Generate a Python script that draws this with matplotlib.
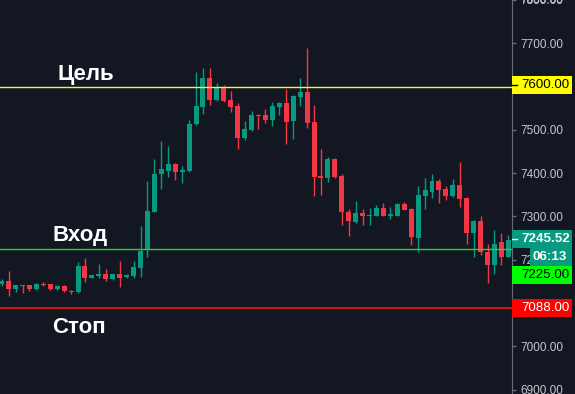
import numpy as np
import matplotlib.pyplot as plt
from matplotlib.patches import Rectangle

# OHLC candles
opens = [7143, 7152, 7132, 7141, 7141, 7132, 7145, 7143, 7132, 7139,
         7129, 7125, 7185, 7158, 7162, 7167, 7155, 7167, 7160, 7162,
         7181, 7223, 7311, 7397, 7405, 7421, 7403, 7405, 7513, 7553,
         7621, 7568, 7599, 7568, 7555, 7482, 7500, 7535, 7534, 7523,
         7552, 7562, 7520, 7575, 7587, 7518, 7394, 7389, 7433, 7394,
         7311, 7288, 7309, 7300, 7302, 7320, 7302, 7302, 7329, 7318,
         7251, 7348, 7357, 7382, 7364, 7348, 7373, 7343, 7263, 7290,
         7219, 7189, 7242, 7207]
closes = [7152, 7132, 7141, 7139, 7132, 7143, 7142, 7132, 7139, 7127,
          7125, 7185, 7158, 7164, 7167, 7155, 7167, 7159, 7165, 7183,
          7221, 7313, 7398, 7410, 7421, 7403, 7408, 7513, 7555, 7621,
          7568, 7599, 7566, 7553, 7482, 7502, 7534, 7532, 7523, 7555,
          7562, 7519, 7578, 7587, 7516, 7391, 7389, 7433, 7391, 7311,
          7290, 7309, 7300, 7304, 7320, 7302, 7304, 7329, 7316, 7252,
          7350, 7362, 7382, 7362, 7348, 7373, 7341, 7263, 7290, 7217,
          7189, 7237, 7207, 7245.52]
highs = [7155, 7175, 7141, 7142, 7142, 7146, 7148, 7144, 7141, 7141,
         7130, 7194, 7204, 7165, 7190, 7179, 7168, 7197, 7168, 7197,
         7279, 7382, 7433, 7474, 7463, 7424, 7417, 7523, 7633, 7644,
         7642, 7608, 7603, 7589, 7562, 7520, 7543, 7537, 7548, 7564,
         7564, 7594, 7580, 7619, 7690, 7557, 7456, 7437, 7435, 7398,
         7318, 7336, 7318, 7320, 7327, 7332, 7322, 7330, 7334, 7320,
         7371, 7389, 7398, 7387, 7371, 7387, 7426, 7346, 7293, 7300,
         7237, 7269, 7263, 7258]
lows = [7139, 7116, 7125, 7123, 7128, 7131, 7139, 7131, 7131, 7126,
        7120, 7124, 7148, 7157, 7159, 7152, 7154, 7137, 7158, 7159,
        7160, 7206, 7310, 7364, 7391, 7385, 7378, 7403, 7511, 7537,
        7557, 7566, 7564, 7542, 7457, 7477, 7497, 7503, 7516, 7509,
        7534, 7468, 7480, 7555, 7504, 7348, 7350, 7380, 7388, 7281,
        7256, 7286, 7281, 7281, 7301, 7300, 7295, 7301, 7315, 7233,
        7217, 7318, 7343, 7332, 7339, 7346, 7322, 7237, 7206, 7210,
        7146, 7168, 7187, 7207]

target = 7600.00
entry = 7225.00
stop = 7088.00
last_price = 7245.52
countdown = '06:13'
price_ticks = [6900, 7000, 7100, 7200, 7300, 7400, 7500, 7600, 7700, 7800]

bg = '#131722'
up_col = '#089981'
down_col = '#f23645'

plt.rcParams['font.family'] = ['Liberation Sans', 'DejaVu Sans']

fig = plt.figure(figsize=(5.75, 3.94), dpi=100, facecolor=bg)
ax = fig.add_axes([0, 0, 512.3 / 575, 1])
ax.set_facecolor(bg)

ymin, ymax = 6890, 7796
ax.set_ylim(ymin, ymax)
ax.set_xlim(-0.245, 73.57)
px = (ymax - ymin) / 394  # price per pixel

o = np.array(opens)
c = np.array(closes)
h = np.array(highs)
l = np.array(lows)
x = np.arange(len(o))
cols = np.where(c >= o, up_col, down_col)

ax.vlines(x, l, h, colors=cols, linewidth=1, zorder=2)
body_h = np.maximum(np.abs(c - o), 1.2 * px)
body_b = np.minimum(o, c)
ax.bar(x, body_h, bottom=body_b, width=0.72, color=cols, linewidth=0, zorder=3)

# levels
ax.axhline(target, color='#f5f53a', linewidth=1, zorder=4)
ax.axhline(entry, color='#2fcf3a', linewidth=1, zorder=4)
ax.axhline(stop, color='#ff1010', linewidth=1.2, zorder=4)

lbl = dict(color='white', fontsize=16, fontweight='bold',
           textcoords='offset points', va='baseline', ha='left')
ax.annotate('Цель', xy=(7.97, target), xytext=(0, 5), **lbl)
ax.annotate('Вход', xy=(7.25, entry), xytext=(0, 5.5), **lbl)
ax.annotate('Стоп', xy=(7.25, stop), xytext=(0, -18), **lbl)

# price scale
for s in ['top', 'left', 'bottom']:
    ax.spines[s].set_visible(False)
ax.spines['right'].set_color('#6a6d78')
ax.set_xticks([])
ax.yaxis.tick_right()
ax.set_yticks(price_ticks)
ax.set_yticklabels([f'{t:.2f}' for t in price_ticks])
ax.tick_params(axis='y', length=3, width=1, color='#6a6d78', pad=3,
               labelcolor='#c4c7cf', labelsize=8.5)
# the 7800 label sits just above the visible range, only its lower half shows
ax.text(1.0 + 8.4 / 512.3, 7800, '7800.00', transform=ax.get_yaxis_transform(),
        color='#c4c7cf', fontsize=8.5, va='center', ha='left', clip_on=False)

# label boxes over the scale
ax2 = fig.add_axes([512.3 / 575, 0, 1 - 512.3 / 575, 1], zorder=5)
ax2.set_xlim(0, 1)
ax2.set_ylim(ymin, ymax)
ax2.set_axis_off()
ax2.patch.set_alpha(0)

box_h = 18 * px
box_r = (572 - 512.3) / 62.7
boxes = [
    (target, f'{target:.2f}', '#ffff00', 'black', 0.0, 'normal'),
    (last_price, f'{last_price:.2f}', up_col, 'white', 0.0, 'bold'),
    (last_price - box_h, countdown, up_col, 'white', (530 - 512.3) / 62.7, 'bold'),
    (last_price - 2 * box_h, f'{entry:.2f}', '#00ff00', 'black', 0.0, 'normal'),
    (stop, f'{stop:.2f}', '#ff0000', 'white', 0.0, 'normal'),
]
for yc, txt, fc, tc, x0, fw in boxes:
    ax2.add_patch(Rectangle((x0, yc - box_h / 2), box_r - x0, box_h,
                            facecolor=fc, edgecolor='none'))
    tx = 0.15 if x0 == 0 else 0.33
    ax2.text(tx, yc, txt, color=tc, fontsize=9.6, fontweight=fw,
             va='center', ha='left')

ax2.plot([0, 0.07], [target, target], color='black', linewidth=1)
ax2.plot([0, 0.07], [last_price, last_price], color='white', linewidth=1)

fig.savefig('out.png', dpi=100, facecolor=bg)
